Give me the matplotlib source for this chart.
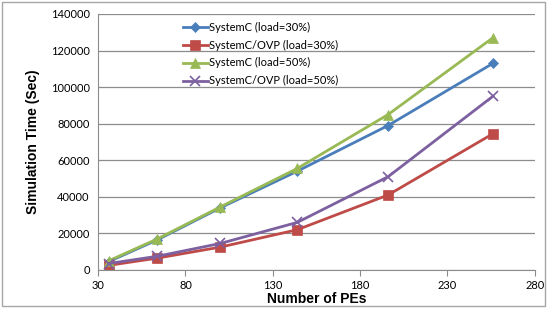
import matplotlib.pyplot as plt
from matplotlib.patches import Rectangle

# Data
num_pes = [36, 64, 100, 144, 196, 256]
systemc_30 = [4500, 16500, 34000, 54000, 79000, 113000]
ovp_30 = [2500, 6500, 12500, 22000, 41000, 74500]
systemc_50 = [5000, 17000, 34500, 55500, 85000, 127000]
ovp_50 = [3500, 7500, 14500, 26000, 51000, 95000]

series = [
    ("SystemC (load=30%)", systemc_30, "#4A7EBB", "D", 5),
    ("SystemC/OVP (load=30%)", ovp_30, "#BE4B48", "s", 6.5),
    ("SystemC (load=50%)", systemc_50, "#98B954", "^", 7),
    ("SystemC/OVP (load=50%)", ovp_50, "#7D60A0", "x", 6.5),
]

tick_font = "Lato"
label_font = "Liberation Sans"

fig = plt.figure(figsize=(5.48, 3.11), dpi=100)
ax = fig.add_axes([0.179, 0.132, 0.797, 0.823])

for name, vals, color, marker, ms in series:
    ax.plot(num_pes, vals, color=color, lw=2, marker=marker, markersize=ms,
            markeredgewidth=1.2 if marker == "x" else 0.5, label=name)

ax.set_xlim(30, 280)
ax.set_ylim(0, 140000)
ax.set_xticks([30, 80, 130, 180, 230, 280])
ax.set_yticks(range(0, 140001, 20000))
ax.yaxis.grid(True, color="#8c8c8c", lw=0.9)
ax.set_axisbelow(True)

for s in ["top", "right"]:
    ax.spines[s].set_visible(False)
ax.spines["left"].set_color("#8c8c8c")
ax.spines["bottom"].set_color("#8c8c8c")
ax.tick_params(axis="y", length=0, pad=6)
ax.tick_params(axis="x", length=4, color="#8c8c8c", direction="out", pad=3)
for lbl in ax.get_xticklabels() + ax.get_yticklabels():
    lbl.set_fontfamily(tick_font)
    lbl.set_fontsize(8)

ax.set_xlabel("Number of PEs", fontfamily=label_font, fontweight="bold",
              fontsize=10, labelpad=1)
ax.set_ylabel("Simulation Time (Sec)", fontfamily=label_font, fontweight="bold",
              fontsize=10, labelpad=8)

ax.legend(loc="upper left", bbox_to_anchor=(0.325, 0.945), bbox_transform=fig.transFigure,
          frameon=False, prop={"family": tick_font, "size": 8},
          handlelength=2.3, handletextpad=0.1, labelspacing=0.62, borderaxespad=0)

fig.patches.append(Rectangle((0.004, 0.015), 0.99, 0.978, transform=fig.transFigure,
                             fill=False, edgecolor="#a6a6a6", lw=1))

fig.savefig("out.png", dpi=100)
